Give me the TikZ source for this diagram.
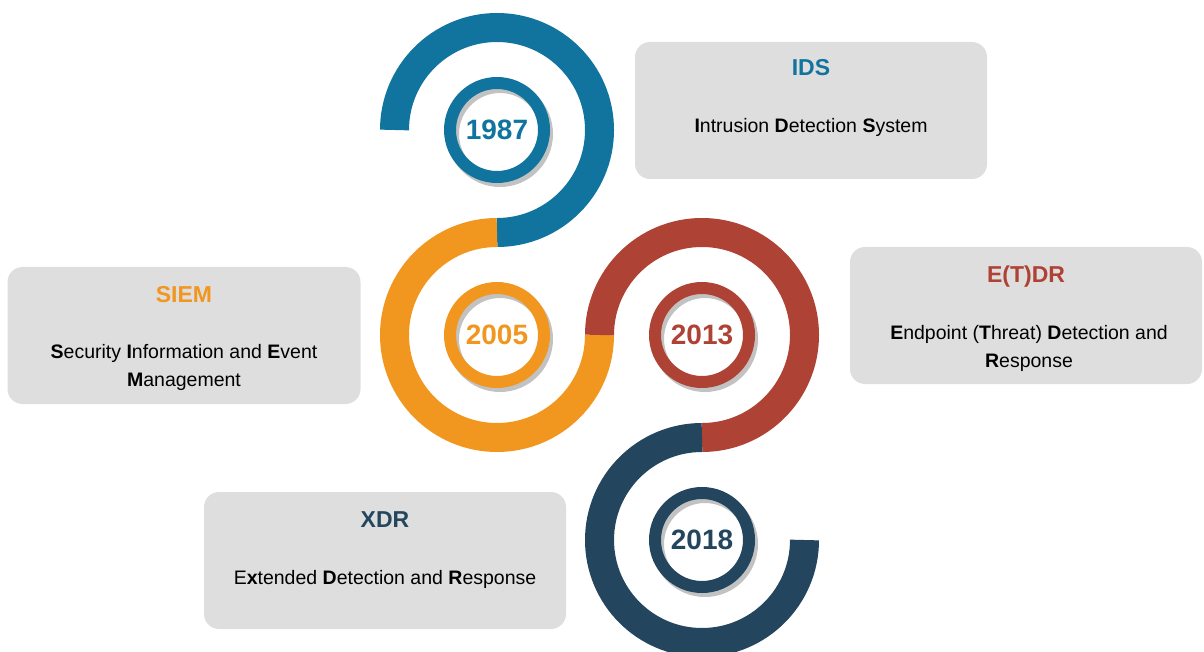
\documentclass[tikz,border=0pt]{standalone}
\usepackage{fontspec}
\setmainfont{Liberation Sans}
\usetikzlibrary{positioning}

\definecolor{idsblue}{RGB}{17,116,158}
\definecolor{siemorange}{RGB}{241,150,31}
\definecolor{edrred}{RGB}{174,66,52}
\definecolor{xdrnavy}{RGB}{35,69,94}
\definecolor{boxgray}{RGB}{222,222,222}
\definecolor{ringshadow}{RGB}{194,194,194}

\tikzset{
  band/.style={line width=29pt},
  yearring/.style={line width=12pt},
  infobox/.style={fill=boxgray, rounded corners=15pt, minimum height=137pt, inner sep=0pt},
  boxtitle/.style={anchor=base, font=\fontsize{23}{27}\selectfont\bfseries},
  boxtext/.style={anchor=base, align=center, font=\fontsize{19.5}{28}\selectfont},
  yeartext/.style={font=\fontsize{28}{32}\selectfont\bfseries}
}

\begin{document}
\begin{tikzpicture}[x=1pt,y=1pt]
            \useasboundingbox (0,0) rectangle (1204,-652);

            % Big bands, each three quarters of a turn
            \foreach \cx/\cy/\s/\e/\col in {497/130/180/-90/idsblue, 497/335/90/360/siemorange, 702/335/180/-90/edrred, 702/540/90/360/xdrnavy}
                \draw[band, \col] (\cx,-\cy) ++(\s:102.5) arc[start angle=\s, end angle=\e, radius=102.5];

            % Year rings with their shadow
            \foreach \cx/\cy/\col/\yr in {497/130/idsblue/1987, 497/335/siemorange/2005, 702/335/edrred/2013, 702/540/xdrnavy/2018} {
                \draw[yearring, ringshadow] (\cx+3,-\cy-4) circle (47);
                \draw[yearring, \col] (\cx,-\cy) circle (47);
                \node[yeartext, text=\col] (y\yr) at (\cx,-\cy) {\yr};
            }

            % Boxes
            \node[infobox, minimum width=352pt] (ids) at (811,-110.5) {};
            \node[infobox, minimum width=353pt] (siem) at (184,-335.5) {};
            \node[infobox, minimum width=352pt] (etdr) at (1026,-315.5) {};
            \node[infobox, minimum width=362pt] (xdr) at (385,-560.5) {};

            % Titles and full names (two-line names sit on their last line)
            \node[boxtitle, text=idsblue] (idstitle) at (811,-76) {IDS};
            \node[boxtext] (idstext) at (811,-133) {\textbf{I}ntrusion \textbf{D}etection \textbf{S}ystem};

            \node[boxtitle, text=siemorange] (siemtitle) at (184,-302) {SIEM};
            \node[boxtext] (siemtext) at (184,-386) {\textbf{S}ecurity \textbf{I}nformation and \textbf{E}vent\\\textbf{M}anagement};

            \node[boxtitle, text=edrred] (etdrtitle) at (1026,-283) {E(T)DR};
            \node[boxtext] (etdrtext) at (1029,-367) {\textbf{E}ndpoint (\textbf{T}hreat) \textbf{D}etection and\\\textbf{R}esponse};

            \node[boxtitle, text=xdrnavy] (xdrtitle) at (385,-527) {XDR};
            \node[boxtext] (xdrtext) at (385,-584) {E\textbf{x}tended \textbf{D}etection and \textbf{R}esponse};
        \end{tikzpicture}
\end{document}
